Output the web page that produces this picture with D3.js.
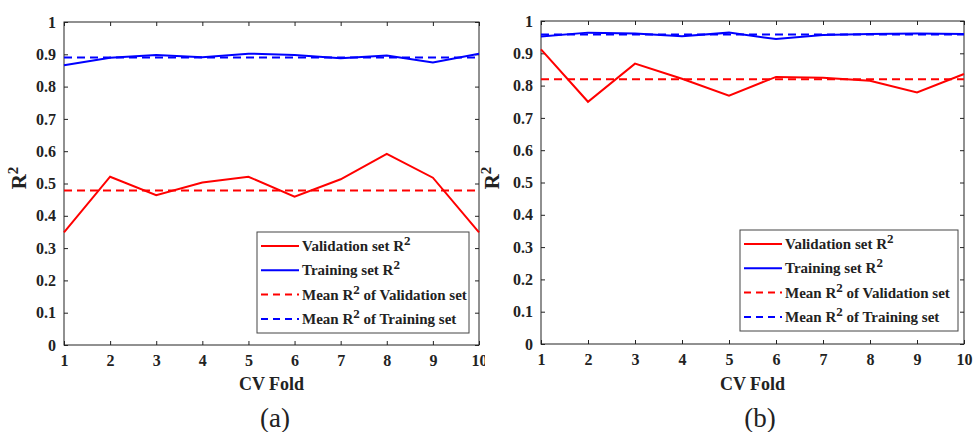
<!DOCTYPE html>
<html>
<head>
  <meta charset="UTF-8">
  <title>CV Fold R2</title>
  <script src="https://d3js.org/d3.v7.min.js"></script>
  <style>
    body { margin: 0; background: #fff; }
    svg text { font-family: "Liberation Serif", "DejaVu Serif", serif !important; fill: #222; }
    .tick text { font-weight: bold; font-size: 16px; }
    .axis path, .axis line { stroke: #222; }
  </style>
</head>
<body>
  <svg id="chart" width="976" height="432"></svg>
  <script>
    // data
    const folds = [1, 2, 3, 4, 5, 6, 7, 8, 9, 10];
    const yTicks = [0, 0.1, 0.2, 0.3, 0.4, 0.5, 0.6, 0.7, 0.8, 0.9, 1];

    const validA = [0.349, 0.521, 0.464, 0.503, 0.521, 0.459, 0.513, 0.592, 0.518, 0.349];
    const trainA = [0.866, 0.889, 0.898, 0.891, 0.902, 0.898, 0.888, 0.896, 0.875, 0.902];
    const meanValidA = 0.478;
    const meanTrainA = 0.890;

    const validB = [0.912, 0.750, 0.868, 0.821, 0.769, 0.827, 0.824, 0.815, 0.779, 0.836];
    const trainB = [0.952, 0.964, 0.961, 0.953, 0.964, 0.944, 0.957, 0.960, 0.961, 0.960];
    const meanValidB = 0.820;
    const meanTrainB = 0.958;

    const legendLabels = ["Validation set R", "Training set R", "Mean R", "Mean R"];

    const FONT = '"Liberation Serif", "DejaVu Serif", serif';
    const svg = d3.select("#chart").attr("font-family", FONT);

    svg.append("defs").append("clipPath").attr("id", "clipA")
      .append("rect").attr("x", 0).attr("y", 0).attr("width", 485).attr("height", 432);

    function drawPanel(cfg) {
      const g = svg.append("g");
      if (cfg.clip) g.attr("clip-path", "url(#clipA)");

      const x = d3.scaleLinear().domain([1, 10]).range([cfg.x0, cfg.x1]);
      const y = d3.scaleLinear().domain([0, 1]).range([cfg.y0, cfg.y1]);

      // frame
      g.append("rect")
        .attr("x", cfg.x0).attr("y", cfg.y1)
        .attr("width", cfg.x1 - cfg.x0).attr("height", cfg.y0 - cfg.y1)
        .attr("fill", "none").attr("stroke", "#222").attr("stroke-width", 1);

      // axes with inward ticks
      g.append("g").attr("class", "axis")
        .attr("transform", `translate(0,${cfg.y0})`)
        .call(d3.axisBottom(x).tickValues(folds).tickSize(-4).tickPadding(10).tickFormat(d3.format("d")))
        .call(a => a.select(".domain").remove());
      g.append("g").attr("class", "axis")
        .attr("transform", `translate(0,${cfg.y1})`)
        .call(d3.axisTop(x).tickValues(folds).tickSize(-4).tickFormat(""))
        .call(a => a.select(".domain").remove());
      g.append("g").attr("class", "axis")
        .attr("transform", `translate(${cfg.x0},0)`)
        .call(d3.axisLeft(y).tickValues(yTicks).tickSize(-4).tickPadding(8).tickFormat(d => d === 0 || d === 1 ? d : d3.format(".1f")(d)))
        .call(a => a.select(".domain").remove());
      g.append("g").attr("class", "axis")
        .attr("transform", `translate(${cfg.x1},0)`)
        .call(d3.axisRight(y).tickValues(yTicks).tickSize(-4).tickFormat(""))
        .call(a => a.select(".domain").remove());
      g.selectAll(".axis").attr("font-family", FONT);

      // mean lines
      g.append("line")
        .attr("x1", x(1)).attr("x2", x(10))
        .attr("y1", y(cfg.meanValid)).attr("y2", y(cfg.meanValid))
        .attr("stroke", "#ff0000").attr("stroke-width", 2).attr("stroke-dasharray", "8,5");
      g.append("line")
        .attr("x1", x(1)).attr("x2", x(10))
        .attr("y1", y(cfg.meanTrain)).attr("y2", y(cfg.meanTrain))
        .attr("stroke", "#0000ff").attr("stroke-width", 2).attr("stroke-dasharray", "8,5");

      const line = d3.line().x((d, i) => x(folds[i])).y(d => y(d));
      g.append("path").datum(cfg.train)
        .attr("d", line).attr("fill", "none").attr("stroke", "#0000ff").attr("stroke-width", 2);
      g.append("path").datum(cfg.valid)
        .attr("d", line).attr("fill", "none").attr("stroke", "#ff0000").attr("stroke-width", 2);

      // y label
      const yl = g.append("text")
        .attr("transform", `translate(${cfg.ylabX},178) rotate(-90)`)
        .attr("text-anchor", "middle")
        .style("font-size", "21px").style("font-weight", "bold");
      yl.append("tspan").text("R");
      yl.append("tspan").attr("dy", -8).style("font-size", "15px").text("2");

      // x label
      g.append("text")
        .attr("x", (cfg.x0 + cfg.x1) / 2).attr("y", 390)
        .attr("text-anchor", "middle")
        .style("font-size", "18px").style("font-weight", "bold")
        .text("CV Fold");

      // caption
      g.append("text")
        .attr("x", cfg.capX).attr("y", 427)
        .attr("text-anchor", "middle")
        .style("font-size", "27px")
        .text(cfg.caption);

      // legend
      const lg = cfg.legend;
      g.append("rect")
        .attr("x", lg.x).attr("y", lg.y).attr("width", lg.w).attr("height", lg.h)
        .attr("fill", "#fff").attr("stroke", "#444").attr("stroke-width", 1);
      const styles = [
        { c: "#ff0000", dash: null },
        { c: "#0000ff", dash: null },
        { c: "#ff0000", dash: "7,5" },
        { c: "#0000ff", dash: "7,5" }
      ];
      const tails = ["", "", " of Validation set", " of Training set"];
      legendLabels.forEach((lab, i) => {
        const ry = lg.y + 14 + i * 24.3;
        g.append("line")
          .attr("x1", lg.x + 4).attr("x2", lg.x + 42)
          .attr("y1", ry).attr("y2", ry)
          .attr("stroke", styles[i].c).attr("stroke-width", 2)
          .attr("stroke-dasharray", styles[i].dash);
        const t = g.append("text")
          .attr("x", lg.x + 45).attr("y", ry + 5)
          .style("font-size", "15px").style("font-weight", "bold");
        t.append("tspan").text(lab);
        t.append("tspan").attr("dy", -6).style("font-size", "13px").text("2");
        if (tails[i]) t.append("tspan").attr("dy", 6).text(tails[i]);
      });
    }

    drawPanel({
      x0: 64, x1: 479, y0: 345, y1: 22,
      valid: validA, train: trainA, meanValid: meanValidA, meanTrain: meanTrainA,
      ylabX: 26, capX: 275, caption: "(a)", clip: true,
      legend: { x: 257, y: 232, w: 212, h: 101 }
    });

    drawPanel({
      x0: 541, x1: 964, y0: 344, y1: 21,
      valid: validB, train: trainB, meanValid: meanValidB, meanTrain: meanTrainB,
      ylabX: 499, capX: 760, caption: "(b)", clip: false,
      legend: { x: 740, y: 230, w: 218, h: 101 }
    });
  </script>
</body>
</html>
